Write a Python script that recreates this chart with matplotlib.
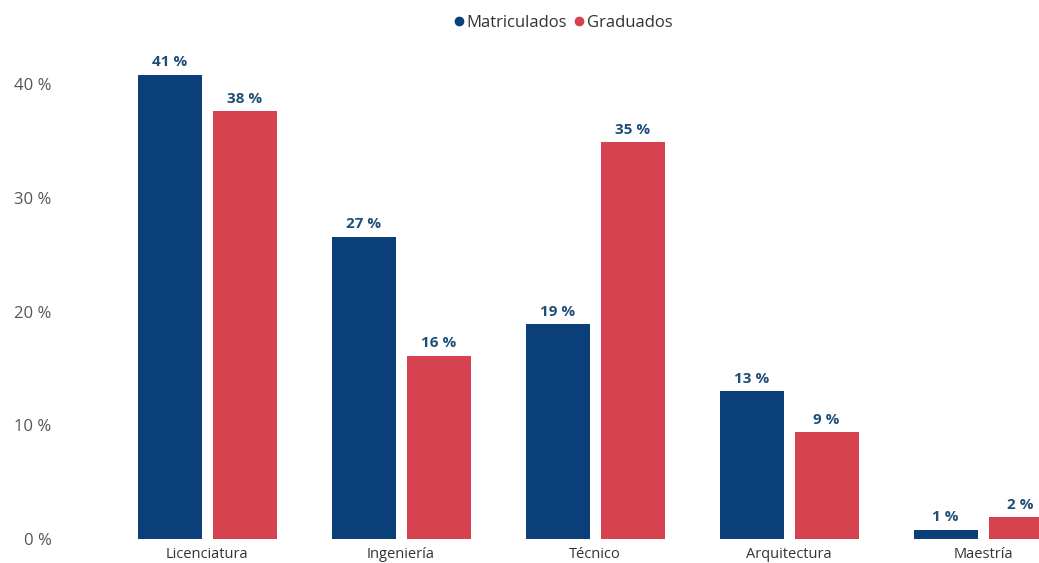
import numpy as np
import matplotlib
matplotlib.use("Agg")
import matplotlib.pyplot as plt
from matplotlib.lines import Line2D

plt.rcParams['font.family'] = ['Open Sans', 'DejaVu Sans']

categories = ['Licenciatura', 'Ingeniería', 'Técnico', 'Arquitectura', 'Maestría']
matriculados = [40.8, 26.6, 18.9, 13.0, 0.8]
graduados = [37.6, 16.1, 34.9, 9.4, 1.9]
yticks = [0, 10, 20, 30, 40]

blue = '#0b3f7a'
red = '#d6424f'
label_color = '#1f4e79'

fig = plt.figure(figsize=(10.39, 5.63), dpi=100)
ax = fig.add_axes([110 / 1039, 24 / 563, 970 / 1039, 489 / 563])

x = np.arange(len(categories))
w = 64 / 194
off = 37.5 / 194
b1 = ax.bar(x - off, matriculados, w, color=blue)
b2 = ax.bar(x + off, graduados, w, color=red)

for bars, vals in ((b1, matriculados), (b2, graduados)):
    for b, v in zip(bars, vals):
        ax.annotate(f'{round(v):.0f} %', (b.get_x() + b.get_width() / 2, v),
                    xytext=(0, 4), textcoords='offset points', ha='center', va='bottom',
                    fontsize=11, fontweight='bold', color=label_color)

ax.set_xlim(-0.5, 4.5)
ax.set_ylim(0, 43)
ax.set_xticks(x)
ax.set_xticklabels(categories, fontsize=10.5, color='#333333')
ax.set_yticks(yticks)
ax.set_yticklabels([f'{t} %' for t in yticks], fontsize=12, color='#555555')
ax.tick_params(axis='x', length=0, pad=6)
ax.tick_params(axis='y', length=0, pad=42)
for s in ax.spines.values():
    s.set_visible(False)

handles = [Line2D([], [], marker='o', ls='', color=blue, markersize=6),
           Line2D([], [], marker='o', ls='', color=red, markersize=6)]
fig.legend(handles, ['Matriculados', 'Graduados'], loc='center', bbox_to_anchor=(562 / 1039, 1 - 23 / 563),
           ncol=2, frameon=False, fontsize=12, handletextpad=0.0, columnspacing=0.3,
           handlelength=0.9, labelcolor='#333333')

fig.savefig('out.png', dpi=100)
